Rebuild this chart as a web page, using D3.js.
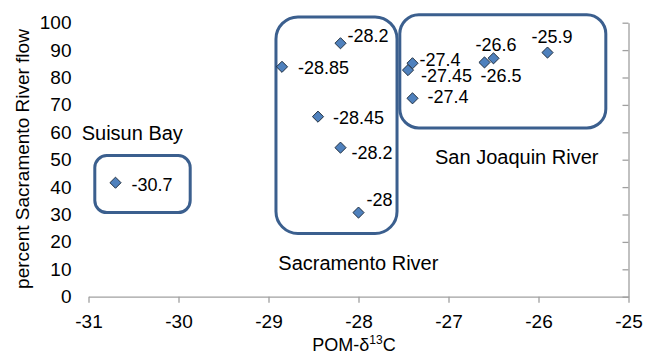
<!DOCTYPE html>
<html>
<head>
<meta charset="utf-8">
<script src="https://cdn.jsdelivr.net/npm/d3@7/dist/d3.min.js"></script>
<style>
  html, body { margin: 0; padding: 0; background: #fff; }
  svg { display: block; font-family: "Liberation Sans", Arial, Helvetica, sans-serif; }
</style>
</head>
<body>
<svg id="chart" width="646" height="362"></svg>
<script>
// POM δ13C values (x) and percent Sacramento River flow (y) for each sample
const delta13C = [-30.7, -28.85, -28.2, -28.45, -28.2, -28, -27.4, -27.45, -27.4, -26.6, -26.5, -25.9];
const sacFlow  = [41.6, 83.9, 92.5, 65.7, 54.4, 30.7, 85.2, 82.7, 72.4, 85.5, 87.0, 89.1];
const pointLabels = ["-30.7", "-28.85", "-28.2", "-28.45", "-28.2", "-28", "-27.4", "-27.45", "-27.4", "-26.6", "-26.5", "-25.9"];

const xTicks = [-31, -30, -29, -28, -27, -26, -25];
const xTickLabels = ["-31", "-30", "-29", "-28", "-27", "-26", "-25"];
const yTicks = [0, 10, 20, 30, 40, 50, 60, 70, 80, 90, 100];

// Sample groups, outlined by rounded boxes (extent in data units)
const groupNames = ["Suisun Bay", "Sacramento River", "San Joaquin River"];
const groupXMin = [-30.93, -28.917, -27.541];
const groupXMax = [-29.87, -27.572, -25.252];
const groupYMin = [30.7, 23.1, 61.6];
const groupYMax = [51.5, 102.1, 102.9];

// ---- layout ----
const svg = d3.select("#chart");
const x = d3.scaleLinear().domain([-31, -25]).range([88.5, 628.5]);
const y = d3.scaleLinear().domain([0, 100]).range([296.7, 22.7]);

// label offsets (px) from each point, and group caption anchors
const labelOffset = [[16, 8], [16, 7], [7, -1], [15, 7], [11, 11.5], [8, -6.5],
                     [7, 2.5], [13, 12], [15, 5], [-9, -11.5], [-13, 23.5], [-16, -9.5]];
const boxRadius = [12, 22, 19];
const captionPos = [[81.7, 140], [278.3, 270], [435, 164]];

const axisColor = "#a0a0a0";

// x axis along the bottom
const xAxis = svg.append("g")
  .attr("transform", `translate(0,${y(0)})`)
  .call(d3.axisBottom(x).tickValues(xTicks)
        .tickFormat((d, i) => xTickLabels[i])
        .tickSizeInner(6).tickSizeOuter(0).tickPadding(12));
xAxis.select(".domain").attr("stroke", axisColor).attr("stroke-width", 1.3);
xAxis.selectAll(".tick line").attr("stroke", axisColor).attr("stroke-width", 1.3);
xAxis.selectAll(".tick text").attr("fill", "#000").attr("font-size", 19)
  .style("font-family", "'Liberation Sans', Arial, sans-serif");

// y axis line sits at the right edge, labels at the left
const yLine = svg.append("g")
  .attr("transform", `translate(${x(-25)},0)`)
  .call(d3.axisLeft(y).tickValues(yTicks).tickFormat("").tickSizeInner(6).tickSizeOuter(0));
yLine.select(".domain").attr("stroke", axisColor).attr("stroke-width", 1.3);
yLine.selectAll(".tick line").attr("stroke", axisColor).attr("stroke-width", 1.3);

const yLabels = svg.append("g")
  .attr("transform", `translate(${x(-31)},0)`)
  .call(d3.axisLeft(y).tickValues(yTicks).tickFormat(d => String(d))
        .tickSize(0).tickPadding(17));
yLabels.select(".domain").remove();
yLabels.selectAll(".tick text").attr("fill", "#000").attr("font-size", 19)
  .style("font-family", "'Liberation Sans', Arial, sans-serif");

// axis titles
svg.append("text")
  .attr("transform", `translate(29,159) rotate(-90)`)
  .attr("text-anchor", "middle")
  .attr("font-size", 19)
  .text("percent Sacramento River flow");

const xTitle = svg.append("text")
  .attr("x", 354).attr("y", 351)
  .attr("text-anchor", "middle")
  .attr("font-size", 18);
xTitle.append("tspan").text("POM-δ");
xTitle.append("tspan").attr("font-size", 12).attr("dy", -7).text("13");
xTitle.append("tspan").attr("dy", 7).text("C");

// group outlines
svg.append("g").selectAll("rect")
  .data(groupNames.map((n, i) => i))
  .join("rect")
  .attr("x", i => x(groupXMin[i]))
  .attr("y", i => y(groupYMax[i]))
  .attr("width", i => x(groupXMax[i]) - x(groupXMin[i]))
  .attr("height", i => y(groupYMin[i]) - y(groupYMax[i]))
  .attr("rx", i => boxRadius[i]).attr("ry", i => boxRadius[i])
  .attr("fill", "none")
  .attr("stroke", "#3b5f8e")
  .attr("stroke-width", 3);

// group captions
svg.append("g").selectAll("text")
  .data(groupNames)
  .join("text")
  .attr("x", (d, i) => captionPos[i][0])
  .attr("y", (d, i) => captionPos[i][1])
  .attr("font-size", 20)
  .attr("fill", "#000")
  .text(d => d);

// points
const pts = delta13C.map((v, i) => ({ x: v, y: sacFlow[i], label: pointLabels[i], off: labelOffset[i] }));
const diamond = d3.symbol().type(d3.symbolSquare).size(62);

svg.append("g").selectAll("path")
  .data(pts)
  .join("path")
  .attr("d", diamond)
  .attr("transform", d => `translate(${x(d.x)},${y(d.y)}) rotate(45)`)
  .attr("fill", "#4f81bd")
  .attr("stroke", "#1c2a3a")
  .attr("stroke-width", 0.9);

// point value labels
svg.append("g").selectAll("text")
  .data(pts)
  .join("text")
  .attr("x", d => x(d.x) + d.off[0])
  .attr("y", d => y(d.y) + d.off[1])
  .attr("font-size", 18)
  .attr("fill", "#000")
  .text(d => d.label);
</script>
</body>
</html>
